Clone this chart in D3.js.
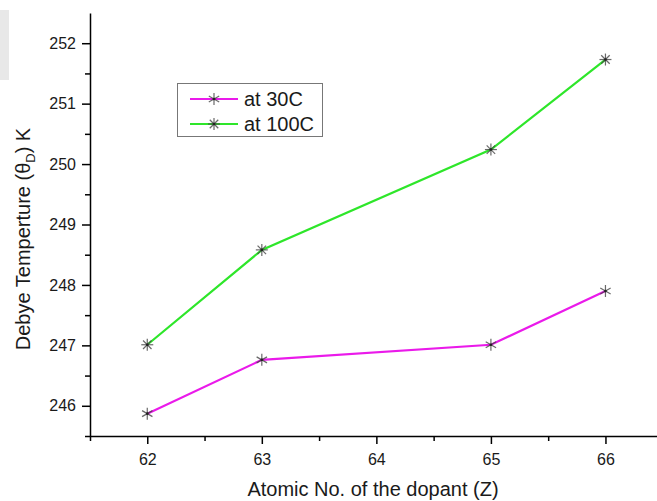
<!DOCTYPE html>
<html>
<head>
<meta charset="utf-8">
<script src="https://cdn.jsdelivr.net/npm/d3@7"></script>
<style>
    body { margin: 0; background: #fff; }
    svg { display: block; font-family: "Liberation Sans", Arial, sans-serif; }
</style>
</head>
<body>
<svg id="chart" width="657" height="501"></svg>
<script>
// data
const atomicNo = [62, 63, 65, 66];
const at30C = [245.87, 246.76, 247.01, 247.9];
const at100C = [247.01, 248.58, 250.24, 251.73];
const xTicks = [62, 63, 64, 65, 66];
const yTicks = [246, 247, 248, 249, 250, 251, 252];

const svg = d3.select("#chart");

// faint watermark remnants on the left edge
svg.append("rect")
    .attr("x", 0).attr("y", 10)
    .attr("width", 9).attr("height", 70)
    .attr("fill", "#e8e8e8");

const x = d3.scaleLinear().domain([61.5, 66.45]).range([90, 657]);
const y = d3.scaleLinear().domain([245.5, 252.5]).range([436, 13]);

// minor ticks
svg.append("g")
    .attr("transform", "translate(0,436)")
    .call(d3.axisBottom(x).tickValues([61.5, 62.5, 63.5, 64.5, 65.5]).tickSize(5).tickFormat(""))
    .call(g => g.select(".domain").remove())
    .selectAll("line").attr("stroke-width", 1.5);

svg.append("g")
    .attr("transform", "translate(90,0)")
    .call(d3.axisLeft(y).tickValues([245.5, 246.5, 247.5, 248.5, 249.5, 250.5, 251.5]).tickSize(5).tickFormat(""))
    .call(g => g.select(".domain").remove())
    .selectAll("line").attr("stroke-width", 1.5);

// major axes
const xAxis = svg.append("g")
    .attr("transform", "translate(0,436)")
    .call(d3.axisBottom(x).tickValues(xTicks).tickFormat(d3.format("d"))
        .tickSize(8).tickPadding(10).tickSizeOuter(0));

const yAxis = svg.append("g")
    .attr("transform", "translate(90,0)")
    .call(d3.axisLeft(y).tickValues(yTicks).tickFormat(d3.format("d"))
        .tickSize(8).tickPadding(6).tickSizeOuter(0));

[xAxis, yAxis].forEach(g => {
    g.select(".domain").attr("stroke-width", 1.5);
    g.selectAll("line").attr("stroke-width", 1.5);
    g.selectAll("text")
        .style("font-size", "16px")
        .attr("fill", "#1a1a1a");
});

// axis titles
svg.append("text")
    .attr("x", 373)
    .attr("y", 496)
    .attr("text-anchor", "middle")
    .style("font-size", "20px")
    .attr("fill", "#1a1a1a")
    .text("Atomic No. of the dopant (Z)");

const yTitle = svg.append("text")
    .attr("transform", "translate(30,239) rotate(-90)")
    .attr("text-anchor", "middle")
    .style("font-size", "20px")
    .attr("fill", "#1a1a1a");
yTitle.append("tspan").text("Debye Temperture (\u03b8");
yTitle.append("tspan").attr("dy", 5).style("font-size", "13px").text("D");
yTitle.append("tspan").attr("dy", -5).text(") K");

// series
const series = [
    { name: "at 30C", values: at30C, color: "#ea1aea", arms: 3 },
    { name: "at 100C", values: at100C, color: "#2ee62a", arms: 4 }
];

const lineGen = d3.line()
    .x(d => x(d[0]))
    .y(d => y(d[1]));

const drawMarker = (g, cx, cy, arms) => {
    const r = 6;
    for (let i = 0; i < arms; i++) {
        const a = Math.PI / 2 + i * Math.PI / arms;
        g.append("line")
            .attr("x1", cx - r * Math.cos(a)).attr("y1", cy - r * Math.sin(a))
            .attr("x2", cx + r * Math.cos(a)).attr("y2", cy + r * Math.sin(a))
            .attr("stroke", "#444")
            .attr("stroke-opacity", 0.8)
            .attr("stroke-width", 1.2);
    }
    g.append("circle")
        .attr("cx", cx).attr("cy", cy).attr("r", 1.3)
        .attr("fill", "#222");
};

series.forEach(s => {
    const pts = atomicNo.map((z, i) => [z, s.values[i]]);
    svg.append("path")
        .attr("d", lineGen(pts))
        .attr("fill", "none")
        .attr("stroke", s.color)
        .attr("stroke-width", 2.2);
    const mg = svg.append("g");
    pts.forEach(p => drawMarker(mg, x(p[0]), y(p[1]), s.arms));
});

// legend
const legend = svg.append("g");
legend.append("rect")
    .attr("x", 177.5).attr("y", 83.5)
    .attr("width", 145).attr("height", 53)
    .attr("fill", "#fff")
    .attr("stroke", "#777")
    .attr("stroke-width", 1);

series.forEach((s, i) => {
    const ly = 99 + i * 25;
    legend.append("line")
        .attr("x1", 190).attr("x2", 238)
        .attr("y1", ly).attr("y2", ly)
        .attr("stroke", s.color)
        .attr("stroke-width", 2.2);
    drawMarker(legend, 214, ly, s.arms);
    legend.append("text")
        .attr("x", 244)
        .attr("y", ly + 7)
        .style("font-size", "20px")
        .attr("fill", "#1a1a1a")
        .text(s.name);
});
</script>
</body>
</html>
